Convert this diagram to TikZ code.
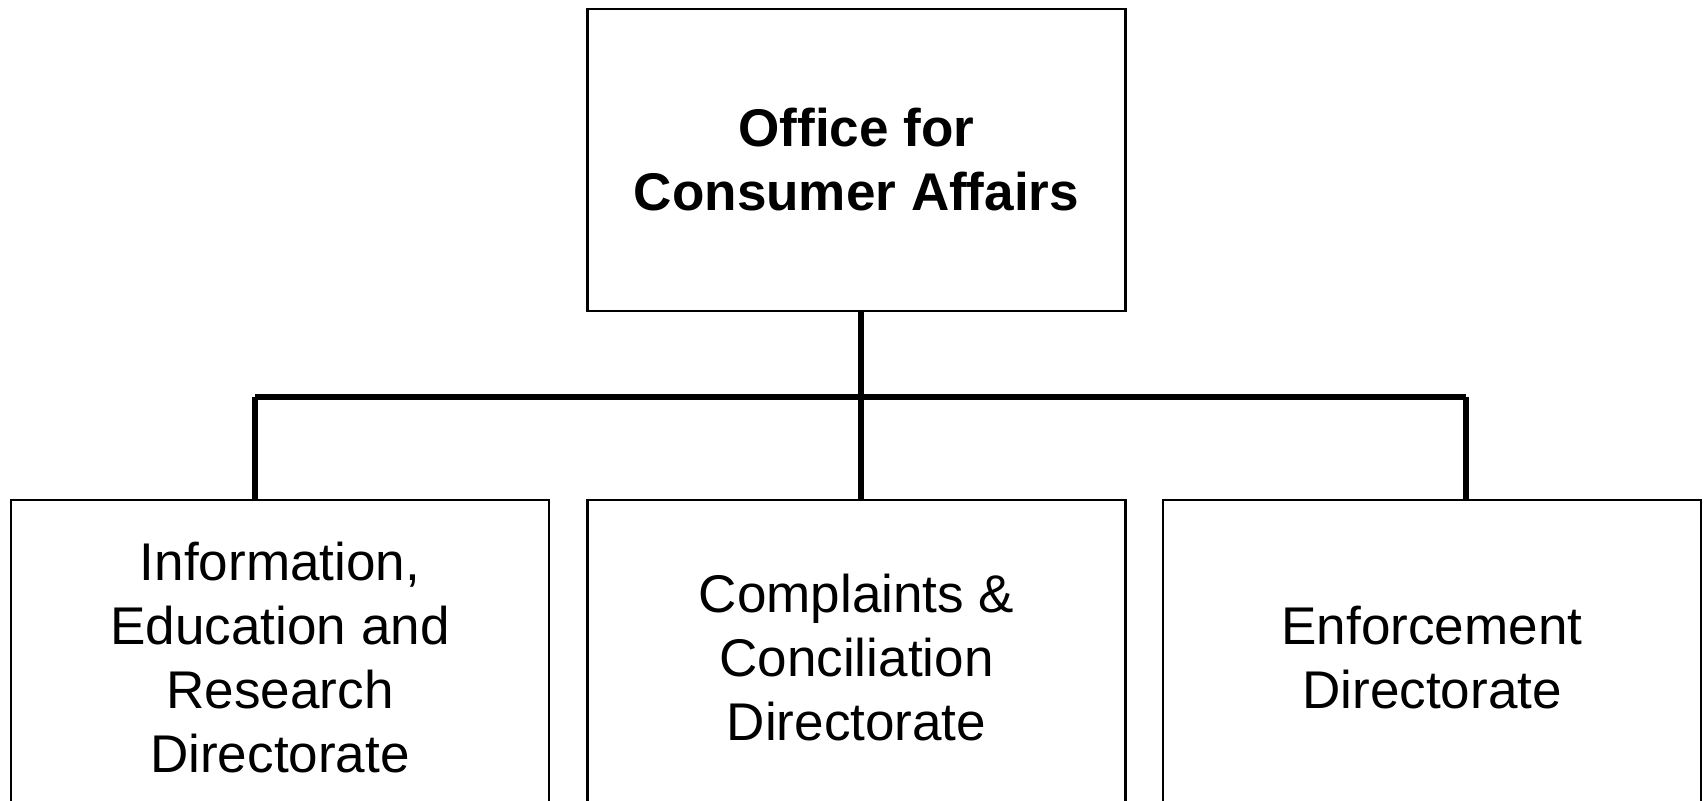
\documentclass[tikz,border=0pt]{standalone}
\usepackage{fontspec}
\setmainfont{Liberation Sans}
\tikzset{
  unit/.style={draw, line width=0.6pt, align=center, inner sep=0pt,
    minimum width=5.38cm, minimum height=3.15cm,
    font=\fontsize{15.1}{18.2}\selectfont},
  link/.style={draw, line width=1.5pt}
}

\begin{document}
\begin{tikzpicture}
  \useasboundingbox (0,0) rectangle (17.04,-8);
  \clip (0,0) rectangle (17.04,-8);
  % head office
  \node[unit, minimum height=3.02cm, font=\bfseries\fontsize{15.1}{18.2}\selectfont] (OCA) at (8.565,-1.60) {Office for\\Consumer Affairs};
  % directorates
  \node[unit] (IER) at (2.80,-6.575) {Information,\\Education and\\Research\\Directorate};
  \node[unit] (CCD) at (8.565,-6.575) {Complaints \&\\Conciliation\\Directorate};
  \node[unit] (ENF) at (14.32,-6.575) {Enforcement\\Directorate};
  % bus line
  \coordinate (busL) at (2.55,-3.97);
  \coordinate (busM) at (8.61,-3.97);
  \coordinate (busR) at (14.66,-3.97);
  \path[link] (busM |- OCA.south)--(busM);
  \path[link] (busL)--(busR);
  \path[link] (busL)--(busL |- IER.north);
  \path[link] (busM)--(busM |- CCD.north);
  \path[link] (busR)--(busR |- ENF.north);
\end{tikzpicture}
\end{document}
